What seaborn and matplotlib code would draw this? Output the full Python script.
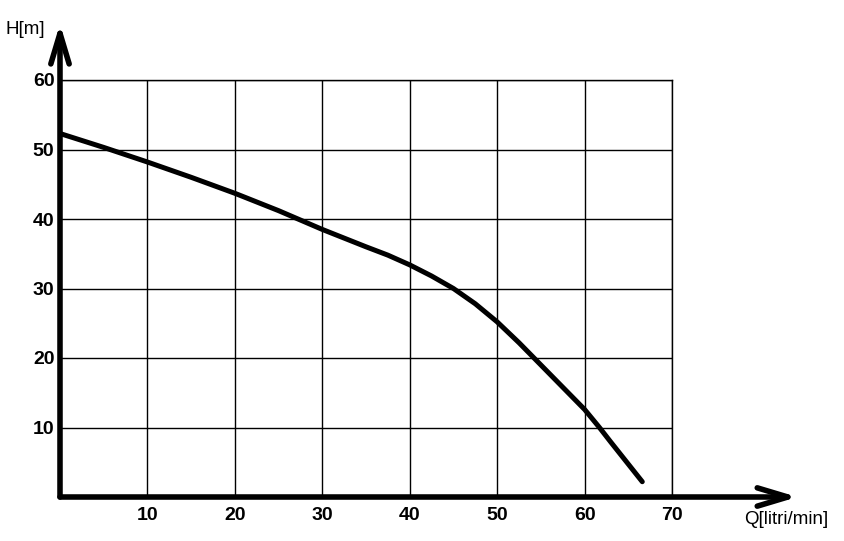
import matplotlib
matplotlib.use("Agg")
import matplotlib.pyplot as plt
import seaborn as sns
import pandas as pd

# Data
q_values = [0, 5, 10, 15, 20, 25, 30, 35, 37.5, 40, 42.5, 45, 47.5, 50, 52.5, 55, 57.5, 60, 61.7, 63, 66.6]
h_values = [52.3, 50.3, 48.2, 46.0, 43.7, 41.2, 38.5, 36.0, 34.8, 33.4, 31.8, 30.0, 27.8, 25.2, 22.2, 19.0, 15.8, 12.6, 10.0, 7.9, 2.2]
x_ticks = [10, 20, 30, 40, 50, 60, 70]
y_ticks = [10, 20, 30, 40, 50, 60]
x_label = "Q[litri/min]"
y_label = "H[m]"

sns.set_style("white")
plt.rcParams['font.family'] = ['Liberation Sans', 'DejaVu Sans']
plt.rcParams['text.color'] = 'black'
plt.rcParams['xtick.color'] = 'black'
plt.rcParams['ytick.color'] = 'black'

df = pd.DataFrame({"Q": q_values, "H": h_values})

fig = plt.figure(figsize=(8.45, 5.41), dpi=100)
ax = fig.add_axes([60/845, 44/541, 612/845, 417/541])

sns.lineplot(data=df, x="Q", y="H", ax=ax, color="black", linewidth=3.6,
             solid_capstyle="round", solid_joinstyle="round")

ax.set_xlim(0, 70)
ax.set_ylim(0, 60)
ax.set_xticks(x_ticks)
ax.set_yticks(y_ticks)
ax.grid(True, color="black", linewidth=1.0)
ax.set_axisbelow(True)
ax.tick_params(axis="both", length=0, labelsize=14, labelcolor="black")
ax.tick_params(axis="x", pad=7)
ax.tick_params(axis="y", pad=4)
for lab in ax.get_xticklabels() + ax.get_yticklabels():
    lab.set_fontweight("bold")
ax.set_xlabel("")
ax.set_ylabel("")

for s in ["top", "right"]:
    ax.spines[s].set_color("black")
    ax.spines[s].set_linewidth(1.0)
for s in ["left", "bottom"]:
    ax.spines[s].set_visible(False)

# Axis arrows
arrow_kw = dict(arrowstyle="->,head_length=1.0,head_width=0.3", lw=4.0, color="black",
                shrinkA=0, shrinkB=0, mutation_scale=22)
ax.annotate("", xy=(1.205, 0), xytext=(0, 0), xycoords="axes fraction",
            textcoords="axes fraction", arrowprops=arrow_kw, annotation_clip=False)
ax.annotate("", xy=(0, 1.135), xytext=(0, 0), xycoords="axes fraction",
            textcoords="axes fraction", arrowprops=arrow_kw, annotation_clip=False)

fig.text(6/845, 1 - 29/541, y_label, fontsize=13.5, ha="left", va="center", color="black")
fig.text(786/845, 1 - 520/541, x_label, fontsize=13.5, ha="center", va="center", color="black")

fig.savefig("out.png", dpi=100, facecolor="white")
